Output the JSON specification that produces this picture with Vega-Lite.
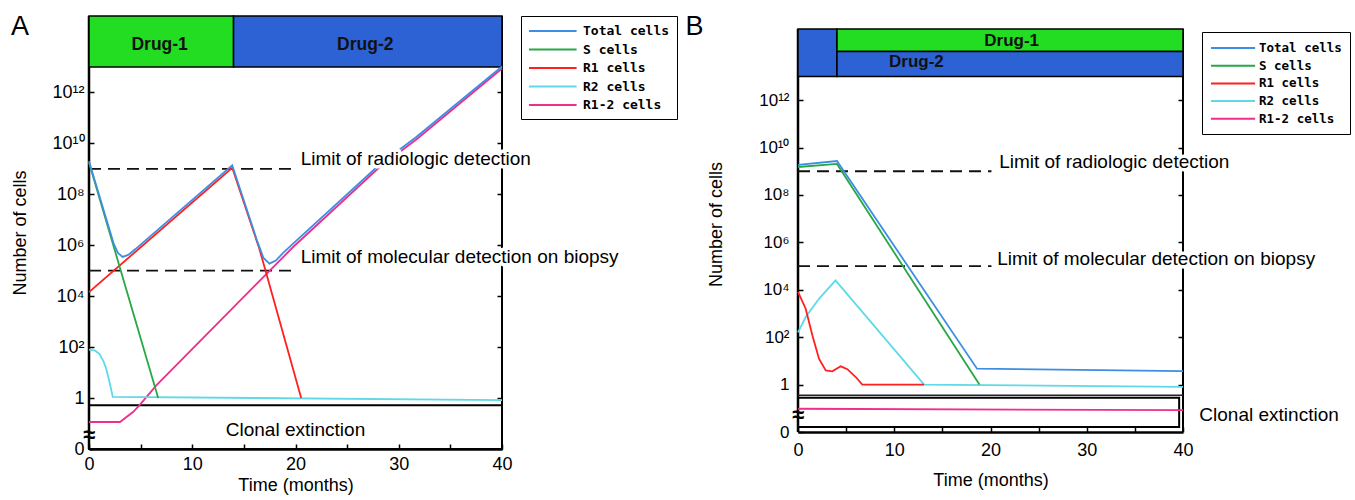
{
  "$schema": "https://vega.github.io/schema/vega-lite/v6.json",
  "padding": {"left": 11, "top": 12, "right": 5, "bottom": 5},
  "background": "white",
  "config": {
    "view": {"stroke": null},
    "font": "Liberation Sans",
    "axis": {"grid": false, "labelColor": "black", "titleColor": "black", "tickColor": "black", "domainColor": "black", "labelFont": "Liberation Sans", "titleFont": "Liberation Sans", "titleFontWeight": "normal"},
    "text": {"font": "Liberation Sans", "color": "black"}
  },
  "datasets": {
    "linesA": [
      {"series": "R1-2 cells", "t": 0, "e": -0.94}, {"series": "R1-2 cells", "t": 3.0, "e": -0.94}, {"series": "R1-2 cells", "t": 4.26, "e": -0.55}, {"series": "R1-2 cells", "t": 4.9, "e": -0.28}, {"series": "R1-2 cells", "t": 6.52, "e": 0.5}, {"series": "R1-2 cells", "t": 19.77, "e": 5.93}, {"series": "R1-2 cells", "t": 28.1, "e": 9.05}, {"series": "R1-2 cells", "t": 31.7, "e": 10.15}, {"series": "R1-2 cells", "t": 40, "e": 12.94},
      {"series": "R2 cells", "t": 0, "e": 1.9}, {"series": "R2 cells", "t": 0.6, "e": 1.86}, {"series": "R2 cells", "t": 1.0, "e": 1.74}, {"series": "R2 cells", "t": 1.4, "e": 1.45}, {"series": "R2 cells", "t": 1.67, "e": 1.15}, {"series": "R2 cells", "t": 2.0, "e": 0.6}, {"series": "R2 cells", "t": 2.3, "e": 0.05}, {"series": "R2 cells", "t": 40, "e": -0.08},
      {"series": "R1 cells", "t": 0, "e": 4.16}, {"series": "R1 cells", "t": 13.87, "e": 9.04}, {"series": "R1 cells", "t": 16.5, "e": 5.86}, {"series": "R1 cells", "t": 17.1, "e": 5.0}, {"series": "R1 cells", "t": 20.55, "e": 0},
      {"series": "S cells", "t": 0, "e": 9.25}, {"series": "S cells", "t": 6.7, "e": 0},
      {"series": "Total cells", "t": 0, "e": 9.3}, {"series": "Total cells", "t": 2.4, "e": 6.05}, {"series": "Total cells", "t": 2.8, "e": 5.7}, {"series": "Total cells", "t": 3.25, "e": 5.54}, {"series": "Total cells", "t": 3.8, "e": 5.62}, {"series": "Total cells", "t": 4.5, "e": 5.85}, {"series": "Total cells", "t": 13.87, "e": 9.14}, {"series": "Total cells", "t": 16.3, "e": 6.15}, {"series": "Total cells", "t": 16.9, "e": 5.5}, {"series": "Total cells", "t": 17.48, "e": 5.28}, {"series": "Total cells", "t": 18.1, "e": 5.4}, {"series": "Total cells", "t": 18.8, "e": 5.7}, {"series": "Total cells", "t": 19.77, "e": 6.06}, {"series": "Total cells", "t": 28.1, "e": 9.15}, {"series": "Total cells", "t": 31.7, "e": 10.25}, {"series": "Total cells", "t": 40, "e": 13.02}
    ],
    "linesB": [
      {"series": "R1-2 cells", "t": 0, "e": -1.02}, {"series": "R1-2 cells", "t": 40, "e": -1.08},
      {"series": "R2 cells", "t": 0, "e": 2.2}, {"series": "R2 cells", "t": 0.8, "e": 2.85}, {"series": "R2 cells", "t": 2.18, "e": 3.62}, {"series": "R2 cells", "t": 3.9, "e": 4.4}, {"series": "R2 cells", "t": 13.1, "e": 0}, {"series": "R2 cells", "t": 40, "e": -0.1},
      {"series": "R1 cells", "t": 0, "e": 3.91}, {"series": "R1 cells", "t": 0.8, "e": 3.2}, {"series": "R1 cells", "t": 1.49, "e": 2.08}, {"series": "R1 cells", "t": 2.18, "e": 1.09}, {"series": "R1 cells", "t": 2.88, "e": 0.6}, {"series": "R1 cells", "t": 3.57, "e": 0.56}, {"series": "R1 cells", "t": 4.43, "e": 0.77}, {"series": "R1 cells", "t": 5.13, "e": 0.65}, {"series": "R1 cells", "t": 6.0, "e": 0.32}, {"series": "R1 cells", "t": 6.68, "e": 0}, {"series": "R1 cells", "t": 13.1, "e": 0},
      {"series": "S cells", "t": 0, "e": 9.18}, {"series": "S cells", "t": 4.05, "e": 9.31}, {"series": "S cells", "t": 18.85, "e": 0},
      {"series": "Total cells", "t": 0, "e": 9.27}, {"series": "Total cells", "t": 4.05, "e": 9.43}, {"series": "Total cells", "t": 18.6, "e": 0.67}, {"series": "Total cells", "t": 40, "e": 0.57}
    ]
  },
  "resolve": {"legend": {"color": "independent"}, "scale": {"color": "independent"}},
  "spacing": 296,
  "bounds": "flush",
  "hconcat": [
    {
      "width": 413,
      "height": 433,
      "resolve": {"axis": {"x": "independent", "y": "independent"}},
      "layer": [
        {
          "data": {"values": [{}]},
          "mark": {"type": "rule", "color": "black", "strokeWidth": 2.5},
          "encoding": {
            "x": {"datum": 0, "type": "quantitative", "scale": {"domain": [0, 40], "nice": false, "zero": false}, "axis": null},
            "y": {"datum": -2, "type": "quantitative", "scale": {"domain": [-2, 15], "nice": false, "zero": false},
              "axis": {"orient": "left", "values": [-2, 0, 2, 4, 6, 8, 10, 12], "labelExpr": "datum.value == -2 ? '0' : datum.value == 0 ? '1' : datum.value == 2 ? '10²' : datum.value == 4 ? '10⁴' : datum.value == 6 ? '10⁶' : datum.value == 8 ? '10⁸' : datum.value == 10 ? '10¹⁰' : '10¹²'", "domain": false, "tickSize": -5, "tickWidth": 1.5, "labelFontSize": 18, "labelPadding": 10, "labelOverlap": false, "labelFlush": false, "title": "Number of cells", "titleFontSize": 18, "titlePadding": 22}},
            "y2": {"datum": 15}
          }
        },
        {
          "data": {"values": [{}]},
          "mark": {"type": "rule", "color": "black", "strokeWidth": 2},
          "encoding": {
            "x": {"datum": 40, "type": "quantitative", "scale": {"domain": [0, 40], "nice": false, "zero": false}, "axis": null},
            "y": {"datum": -2, "type": "quantitative", "scale": {"domain": [-2, 15], "nice": false, "zero": false},
              "axis": {"orient": "right", "values": [0, 2, 4, 6, 8, 10, 12], "labels": false, "domain": false, "tickSize": -5, "tickWidth": 1.5, "title": null}},
            "y2": {"datum": 15}
          }
        },
        {
          "data": {"values": [{"drug": "Drug-1", "start": 0, "end": 14}, {"drug": "Drug-2", "start": 14, "end": 40}]},
          "mark": {"type": "rect", "stroke": "black", "strokeWidth": 1.5},
          "encoding": {
            "x": {"field": "start", "type": "quantitative", "scale": {"domain": [0, 40], "nice": false, "zero": false}, "axis": null},
            "x2": {"field": "end"},
            "y": {"datum": 13, "type": "quantitative", "scale": {"domain": [-2, 15], "nice": false, "zero": false}, "axis": null},
            "y2": {"datum": 15},
            "fill": {"field": "drug", "type": "nominal", "scale": {"domain": ["Drug-1", "Drug-2"], "range": ["#22dd22", "#2c62d4"]}, "legend": null}
          }
        },
        {
          "data": {"values": [{"label": "Drug-1"}]},
          "mark": {"type": "text", "align": "center", "baseline": "alphabetic", "fontSize": 17.5, "fontWeight": "bold", "color": "#111"},
          "encoding": {
            "x": {"datum": 6.84, "type": "quantitative", "scale": {"domain": [0, 40], "nice": false, "zero": false}, "axis": null},
            "y": {"datum": 13.65, "type": "quantitative", "scale": {"domain": [-2, 15], "nice": false, "zero": false}, "axis": null},
            "text": {"field": "label"}
          }
        },
        {
          "data": {"values": [{"label": "Drug-2"}]},
          "mark": {"type": "text", "align": "center", "baseline": "alphabetic", "fontSize": 17.5, "fontWeight": "bold", "color": "#111"},
          "encoding": {
            "x": {"datum": 26.76, "type": "quantitative", "scale": {"domain": [0, 40], "nice": false, "zero": false}, "axis": null},
            "y": {"datum": 13.65, "type": "quantitative", "scale": {"domain": [-2, 15], "nice": false, "zero": false}, "axis": null},
            "text": {"field": "label"}
          }
        },
        {
          "data": {"values": [{}]},
          "mark": {"type": "rect", "fill": "transparent", "stroke": "black", "strokeWidth": 2},
          "encoding": {
            "x": {"datum": 0, "type": "quantitative", "scale": {"domain": [0, 40], "nice": false, "zero": false}, "axis": null},
            "x2": {"datum": 40},
            "y": {"datum": -2, "type": "quantitative", "scale": {"domain": [-2, 15], "nice": false, "zero": false}, "axis": null},
            "y2": {"datum": -0.28}
          }
        },
        {
          "data": {"values": [{"limit": "radiologic", "level": 9}, {"limit": "molecular", "level": 5}]},
          "mark": {"type": "rule", "color": "#111", "strokeWidth": 1.8, "strokeDash": [12, 7]},
          "encoding": {
            "x": {"datum": 0, "type": "quantitative", "scale": {"domain": [0, 40], "nice": false, "zero": false}, "axis": null},
            "x2": {"datum": 19.8},
            "y": {"field": "level", "type": "quantitative", "scale": {"domain": [-2, 15], "nice": false, "zero": false}, "axis": null}
          }
        },
        {
          "data": {"name": "linesA"},
          "mark": {"type": "line", "strokeWidth": 1.8},
          "encoding": {
            "x": {"field": "t", "type": "quantitative", "scale": {"domain": [0, 40], "nice": false, "zero": false},
              "axis": {"orient": "bottom", "values": [0, 5, 10, 15, 20, 25, 30, 35, 40], "labelExpr": "datum.value % 10 == 0 ? datum.label : ''", "tickSize": -5, "tickWidth": 1.5, "domainWidth": 2.5, "labelFontSize": 18, "labelPadding": 11, "labelFlush": false, "labelOverlap": false, "title": "Time (months)", "titleFontSize": 18, "titlePadding": 3}},
            "y": {"field": "e", "type": "quantitative", "scale": {"domain": [-2, 15], "nice": false, "zero": false}, "axis": null},
            "color": {"field": "series", "type": "nominal",
              "scale": {"domain": ["Total cells", "S cells", "R1 cells", "R2 cells", "R1-2 cells"], "range": ["#3d8ee3", "#27a844", "#ff1f1f", "#5dd9e8", "#ee2d8c"]},
              "legend": {"orient": "none", "legendX": 432, "legendY": 0, "title": null, "strokeColor": "black", "fillColor": "white", "padding": 7, "symbolType": "M -1 0 L 5.8 0", "symbolSize": 196, "symbolStrokeWidth": 2, "labelFont": "DejaVu Sans Mono", "labelFontWeight": "bold", "labelFontSize": 13, "labelColor": "black", "labelOffset": 39, "rowPadding": 3.5}}
          }
        },
        {
          "data": {"values": [{"label": "Limit of radiologic detection"}]},
          "encoding": {
            "x": {"datum": 20.5, "type": "quantitative", "scale": {"domain": [0, 40], "nice": false, "zero": false}, "axis": null},
            "y": {"datum": 9.16, "type": "quantitative", "scale": {"domain": [-2, 15], "nice": false, "zero": false}, "axis": null},
            "text": {"field": "label"}
          },
          "layer": [
            {"mark": {"type": "text", "align": "left", "baseline": "alphabetic", "fontSize": 19, "fill": "white", "stroke": "white", "strokeWidth": 7, "strokeJoin": "round"}},
            {"mark": {"type": "text", "align": "left", "baseline": "alphabetic", "fontSize": 19, "color": "black"}}
          ]
        },
        {
          "data": {"values": [{"label": "Limit of molecular detection on biopsy"}]},
          "encoding": {
            "x": {"datum": 20.5, "type": "quantitative", "scale": {"domain": [0, 40], "nice": false, "zero": false}, "axis": null},
            "y": {"datum": 5.3, "type": "quantitative", "scale": {"domain": [-2, 15], "nice": false, "zero": false}, "axis": null},
            "text": {"field": "label"}
          },
          "layer": [
            {"mark": {"type": "text", "align": "left", "baseline": "alphabetic", "fontSize": 19, "fill": "white", "stroke": "white", "strokeWidth": 7, "strokeJoin": "round"}},
            {"mark": {"type": "text", "align": "left", "baseline": "alphabetic", "fontSize": 19, "color": "black"}}
          ]
        },
        {
          "data": {"values": [{"label": "Clonal extinction"}]},
          "mark": {"type": "text", "align": "center", "baseline": "alphabetic", "fontSize": 19, "color": "black"},
          "encoding": {
            "x": {"datum": 20, "type": "quantitative", "scale": {"domain": [0, 40], "nice": false, "zero": false}, "axis": null},
            "y": {"datum": -1.49, "type": "quantitative", "scale": {"domain": [-2, 15], "nice": false, "zero": false}, "axis": null},
            "text": {"field": "label"}
          }
        },
        {
          "data": {"values": [{"label": "A"}]},
          "mark": {"type": "text", "align": "center", "baseline": "alphabetic", "fontSize": 27, "color": "black"},
          "encoding": {
            "x": {"datum": -6.68, "type": "quantitative", "scale": {"domain": [0, 40], "nice": false, "zero": false}, "axis": null},
            "y": {"datum": 14.25, "type": "quantitative", "scale": {"domain": [-2, 15], "nice": false, "zero": false}, "axis": null},
            "text": {"field": "label"}
          }
        },
        {
          "data": {"values": [{"label": "≈"}]},
          "mark": {"type": "text", "align": "center", "baseline": "middle", "fontSize": 22, "fontWeight": "bold", "color": "black"},
          "encoding": {
            "x": {"datum": 0, "type": "quantitative", "scale": {"domain": [0, 40], "nice": false, "zero": false}, "axis": null},
            "y": {"datum": -1.45, "type": "quantitative", "scale": {"domain": [-2, 15], "nice": false, "zero": false}, "axis": null},
            "text": {"field": "label"}
          }
        }
      ]
    },
    {
      "width": 385,
      "height": 416,
      "resolve": {"axis": {"x": "independent", "y": "independent"}},
      "layer": [
        {
          "data": {"values": [{}]},
          "mark": {"type": "rule", "color": "black", "strokeWidth": 2.5},
          "encoding": {
            "x": {"datum": 0, "type": "quantitative", "scale": {"domain": [0, 40], "nice": false, "zero": false}, "axis": null},
            "y": {"datum": -2, "type": "quantitative", "scale": {"domain": [-2, 15.55], "nice": false, "zero": false},
              "axis": {"orient": "left", "values": [-2, 0, 2, 4, 6, 8, 10, 12], "labelExpr": "datum.value == -2 ? '0' : datum.value == 0 ? '1' : datum.value == 2 ? '10²' : datum.value == 4 ? '10⁴' : datum.value == 6 ? '10⁶' : datum.value == 8 ? '10⁸' : datum.value == 10 ? '10¹⁰' : '10¹²'", "domain": false, "tickSize": -5, "tickWidth": 1.5, "labelFontSize": 17, "labelPadding": 14, "labelOverlap": false, "labelFlush": false, "title": "Number of cells", "titleFontSize": 18, "titlePadding": 33}},
            "y2": {"datum": 15}
          }
        },
        {
          "data": {"values": [{}]},
          "mark": {"type": "rule", "color": "black", "strokeWidth": 2},
          "encoding": {
            "x": {"datum": 40, "type": "quantitative", "scale": {"domain": [0, 40], "nice": false, "zero": false}, "axis": null},
            "y": {"datum": -2, "type": "quantitative", "scale": {"domain": [-2, 15.55], "nice": false, "zero": false},
              "axis": {"orient": "right", "values": [0, 2, 4, 6, 8, 10, 12], "labels": false, "domain": false, "tickSize": -5, "tickWidth": 1.5, "title": null}},
            "y2": {"datum": 15}
          }
        },
        {
          "data": {"values": [{"drug": "Drug-2", "start": 0, "end": 4.05}]},
          "mark": {"type": "rect", "stroke": "black", "strokeWidth": 1.5},
          "encoding": {
            "x": {"field": "start", "type": "quantitative", "scale": {"domain": [0, 40], "nice": false, "zero": false}, "axis": null},
            "x2": {"field": "end"},
            "y": {"datum": 13, "type": "quantitative", "scale": {"domain": [-2, 15.55], "nice": false, "zero": false}, "axis": null},
            "y2": {"datum": 15},
            "fill": {"field": "drug", "type": "nominal", "scale": {"domain": ["Drug-1", "Drug-2"], "range": ["#22dd22", "#2c62d4"]}, "legend": null}
          }
        },
        {
          "data": {"values": [{"drug": "Drug-1", "start": 4.05, "end": 40}]},
          "mark": {"type": "rect", "stroke": "black", "strokeWidth": 1.5},
          "encoding": {
            "x": {"field": "start", "type": "quantitative", "scale": {"domain": [0, 40], "nice": false, "zero": false}, "axis": null},
            "x2": {"field": "end"},
            "y": {"datum": 14.05, "type": "quantitative", "scale": {"domain": [-2, 15.55], "nice": false, "zero": false}, "axis": null},
            "y2": {"datum": 15},
            "fill": {"field": "drug", "type": "nominal", "scale": {"domain": ["Drug-1", "Drug-2"], "range": ["#22dd22", "#2c62d4"]}, "legend": null}
          }
        },
        {
          "data": {"values": [{"drug": "Drug-2", "start": 4.05, "end": 40}]},
          "mark": {"type": "rect", "stroke": "black", "strokeWidth": 1.5},
          "encoding": {
            "x": {"field": "start", "type": "quantitative", "scale": {"domain": [0, 40], "nice": false, "zero": false}, "axis": null},
            "x2": {"field": "end"},
            "y": {"datum": 13, "type": "quantitative", "scale": {"domain": [-2, 15.55], "nice": false, "zero": false}, "axis": null},
            "y2": {"datum": 14.05},
            "fill": {"field": "drug", "type": "nominal", "scale": {"domain": ["Drug-1", "Drug-2"], "range": ["#22dd22", "#2c62d4"]}, "legend": null}
          }
        },
        {
          "data": {"values": [{"label": "Drug-1"}]},
          "mark": {"type": "text", "align": "center", "baseline": "alphabetic", "fontSize": 17, "fontWeight": "bold", "color": "#111"},
          "encoding": {
            "x": {"datum": 22.2, "type": "quantitative", "scale": {"domain": [0, 40], "nice": false, "zero": false}, "axis": null},
            "y": {"datum": 14.29, "type": "quantitative", "scale": {"domain": [-2, 15.55], "nice": false, "zero": false}, "axis": null},
            "text": {"field": "label"}
          }
        },
        {
          "data": {"values": [{"label": "Drug-2"}]},
          "mark": {"type": "text", "align": "center", "baseline": "alphabetic", "fontSize": 17, "fontWeight": "bold", "color": "#111"},
          "encoding": {
            "x": {"datum": 12.3, "type": "quantitative", "scale": {"domain": [0, 40], "nice": false, "zero": false}, "axis": null},
            "y": {"datum": 13.4, "type": "quantitative", "scale": {"domain": [-2, 15.55], "nice": false, "zero": false}, "axis": null},
            "text": {"field": "label"}
          }
        },
        {
          "data": {"values": [{}]},
          "mark": {"type": "rect", "fill": "transparent", "stroke": "black", "strokeWidth": 2},
          "encoding": {
            "x": {"datum": 0, "type": "quantitative", "scale": {"domain": [0, 40], "nice": false, "zero": false}, "axis": null},
            "x2": {"datum": 39.6},
            "y": {"datum": -1.79, "type": "quantitative", "scale": {"domain": [-2, 15.55], "nice": false, "zero": false}, "axis": null},
            "y2": {"datum": -0.55}
          }
        },
        {
          "data": {"values": [{}]},
          "mark": {"type": "rule", "color": "#222", "strokeWidth": 1.5},
          "encoding": {
            "x": {"datum": 0, "type": "quantitative", "scale": {"domain": [0, 40], "nice": false, "zero": false}, "axis": null},
            "x2": {"datum": 40},
            "y": {"datum": -0.45, "type": "quantitative", "scale": {"domain": [-2, 15.55], "nice": false, "zero": false}, "axis": null}
          }
        },
        {
          "data": {"values": [{"limit": "radiologic", "level": 9}, {"limit": "molecular", "level": 5}]},
          "mark": {"type": "rule", "color": "#111", "strokeWidth": 1.8, "strokeDash": [12, 7]},
          "encoding": {
            "x": {"datum": 0, "type": "quantitative", "scale": {"domain": [0, 40], "nice": false, "zero": false}, "axis": null},
            "x2": {"datum": 20.1},
            "y": {"field": "level", "type": "quantitative", "scale": {"domain": [-2, 15.55], "nice": false, "zero": false}, "axis": null}
          }
        },
        {
          "data": {"name": "linesB"},
          "mark": {"type": "line", "strokeWidth": 1.8},
          "encoding": {
            "x": {"field": "t", "type": "quantitative", "scale": {"domain": [0, 40], "nice": false, "zero": false},
              "axis": {"orient": "bottom", "values": [0, 5, 10, 15, 20, 25, 30, 35, 40], "labelExpr": "datum.value % 10 == 0 ? datum.label : ''", "tickSize": -5, "tickWidth": 1.5, "domainWidth": 2.5, "labelFontSize": 18, "labelPadding": 14, "labelFlush": false, "labelOverlap": false, "title": "Time (months)", "titleFontSize": 18, "titlePadding": 12}},
            "y": {"field": "e", "type": "quantitative", "scale": {"domain": [-2, 15.55], "nice": false, "zero": false}, "axis": null},
            "color": {"field": "series", "type": "nominal",
              "scale": {"domain": ["Total cells", "S cells", "R1 cells", "R2 cells", "R1-2 cells"], "range": ["#3d8ee3", "#27a844", "#ff1f1f", "#5dd9e8", "#ee2d8c"]},
              "legend": {"orient": "none", "legendX": 404, "legendY": 16, "title": null, "strokeColor": "black", "fillColor": "white", "padding": 8, "symbolType": "M -1 0 L 5.3 0", "symbolSize": 196, "symbolStrokeWidth": 2, "labelFont": "DejaVu Sans Mono", "labelFontWeight": "bold", "labelFontSize": 12.5, "labelColor": "black", "labelOffset": 33, "rowPadding": 2.7}}
          }
        },
        {
          "data": {"values": [{"label": "Limit of radiologic detection"}]},
          "encoding": {
            "x": {"datum": 20.9, "type": "quantitative", "scale": {"domain": [0, 40], "nice": false, "zero": false}, "axis": null},
            "y": {"datum": 9.14, "type": "quantitative", "scale": {"domain": [-2, 15.55], "nice": false, "zero": false}, "axis": null},
            "text": {"field": "label"}
          },
          "layer": [
            {"mark": {"type": "text", "align": "left", "baseline": "alphabetic", "fontSize": 19, "fill": "white", "stroke": "white", "strokeWidth": 7, "strokeJoin": "round"}},
            {"mark": {"type": "text", "align": "left", "baseline": "alphabetic", "fontSize": 19, "color": "black"}}
          ]
        },
        {
          "data": {"values": [{"label": "Limit of molecular detection on biopsy"}]},
          "encoding": {
            "x": {"datum": 20.7, "type": "quantitative", "scale": {"domain": [0, 40], "nice": false, "zero": false}, "axis": null},
            "y": {"datum": 5.05, "type": "quantitative", "scale": {"domain": [-2, 15.55], "nice": false, "zero": false}, "axis": null},
            "text": {"field": "label"}
          },
          "layer": [
            {"mark": {"type": "text", "align": "left", "baseline": "alphabetic", "fontSize": 19, "fill": "white", "stroke": "white", "strokeWidth": 7, "strokeJoin": "round"}},
            {"mark": {"type": "text", "align": "left", "baseline": "alphabetic", "fontSize": 19, "color": "black"}}
          ]
        },
        {
          "data": {"values": [{"label": "Clonal extinction"}]},
          "mark": {"type": "text", "align": "left", "baseline": "alphabetic", "fontSize": 19, "color": "black"},
          "encoding": {
            "x": {"datum": 41.7, "type": "quantitative", "scale": {"domain": [0, 40], "nice": false, "zero": false}, "axis": null},
            "y": {"datum": -1.54, "type": "quantitative", "scale": {"domain": [-2, 15.55], "nice": false, "zero": false}, "axis": null},
            "text": {"field": "label"}
          }
        },
        {
          "data": {"values": [{"label": "B"}]},
          "mark": {"type": "text", "align": "center", "baseline": "alphabetic", "fontSize": 27, "color": "black"},
          "encoding": {
            "x": {"datum": -10.75, "type": "quantitative", "scale": {"domain": [0, 40], "nice": false, "zero": false}, "axis": null},
            "y": {"datum": 14.75, "type": "quantitative", "scale": {"domain": [-2, 15.55], "nice": false, "zero": false}, "axis": null},
            "text": {"field": "label"}
          }
        },
        {
          "data": {"values": [{"label": "≈"}]},
          "mark": {"type": "text", "align": "center", "baseline": "middle", "fontSize": 22, "fontWeight": "bold", "color": "black"},
          "encoding": {
            "x": {"datum": 0, "type": "quantitative", "scale": {"domain": [0, 40], "nice": false, "zero": false}, "axis": null},
            "y": {"datum": -1.28, "type": "quantitative", "scale": {"domain": [-2, 15.55], "nice": false, "zero": false}, "axis": null},
            "text": {"field": "label"}
          }
        }
      ]
    }
  ]
}
